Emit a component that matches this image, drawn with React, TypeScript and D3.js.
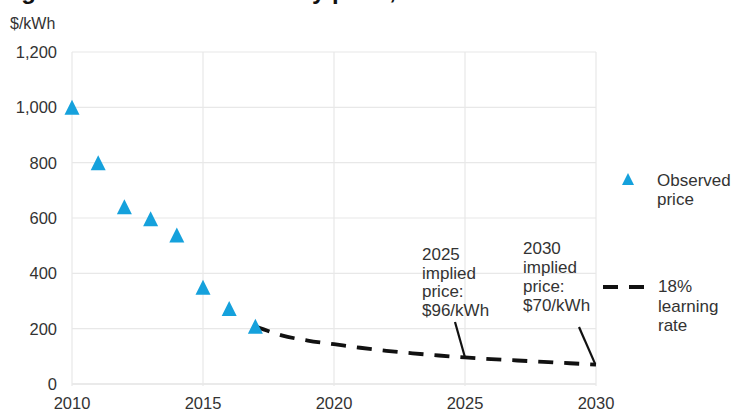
import * as d3 from 'd3';

const observedYears = [2010, 2011, 2012, 2013, 2014, 2015, 2016, 2017];
const observedPrice = [1000, 800, 641, 597, 539, 350, 273, 209];

const forecastYears = [2017, 2018, 2019, 2020, 2021, 2022, 2023, 2024, 2025, 2026, 2027, 2028, 2029, 2030];
const forecastPrice = [209, 176, 157, 144, 131, 120, 111, 103, 96, 90, 85, 80, 75, 70];

const yTicks = [0, 200, 400, 600, 800, 1000, 1200];
const xTicks = [2010, 2015, 2020, 2025, 2030];

const note2025 = ['2025', 'implied', 'price:', '$96/kWh'];
const note2030 = ['2030', 'implied', 'price:', '$70/kWh'];
const legendObserved = ['Observed', 'price'];
const legendForecast = ['18%', 'learning', 'rate'];

const W = 731;
const H = 410;
const BLUE = '#15a1dc';
const GRID = '#e8e8e8';
const TXT = '#333';
const FONT = "'Liberation Sans', Arial, Helvetica, sans-serif";

function tri(cx: number, cy: number, w = 15, h = 15) {
  const p = d3.path();
  p.moveTo(cx, cy - h / 2);
  p.lineTo(cx + w / 2, cy + h / 2);
  p.lineTo(cx - w / 2, cy + h / 2);
  p.closePath();
  return p.toString();
}

export default function App() {
  const x = d3.scaleLinear().domain([2010, 2030]).range([72, 596]);
  const y = d3.scaleLinear().domain([0, 1200]).range([384, 52]);

  const line = d3
    .line<number>()
    .x((_, i) => x(forecastYears[i]))
    .y(d => y(d))
    .curve(d3.curveMonotoneX);

  const fmt = d3.format(',');

  return (
    <svg
      width={W}
      height={H}
      style={{ position: 'absolute', left: 0, top: 0, background: '#fff' }}
      fontFamily={FONT}
    >
      {/* title is cut off at the top edge, only descenders show */}
      <text x={0} y={-1} fontSize={24} fontWeight="bold" fill="#111">
        Figure 1: Lithium-ion battery price, 2010–2030
      </text>

      <text x={10} y={29} fontSize={16} fill={TXT}>$/kWh</text>

      {/* grid */}
      {yTicks.map(t => (
        <line key={'gy' + t} x1={x(2010)} x2={x(2030)} y1={y(t)} y2={y(t)}
          stroke={t === 0 ? '#d6d6d6' : GRID} strokeWidth={1.2} />
      ))}
      {xTicks.map(t => (
        <line key={'gx' + t} x1={x(t)} x2={x(t)} y1={y(1200)} y2={y(0) + 2}
          stroke={GRID} strokeWidth={1.2} />
      ))}

      {yTicks.map(t => (
        <text key={'ty' + t} x={57} y={y(t)} dy="0.36em" textAnchor="end" fontSize={16.5} fill={TXT}>
          {fmt(t)}
        </text>
      ))}
      {xTicks.map(t => (
        <text key={'tx' + t} x={x(t)} y={409} textAnchor="middle" fontSize={16.5} fill={TXT}>
          {t}
        </text>
      ))}

      {/* forecast curve */}
      <path d={line(forecastPrice) || ''} fill="none" stroke="#111" strokeWidth={3.8}
        strokeDasharray="15,11" />

      {/* callouts */}
      <line x1={455} y1={322} x2={x(2025)} y2={y(96)} stroke="#111" strokeWidth={2.2} />
      <line x1={579} y1={327} x2={x(2030) - 1} y2={y(70) - 1} stroke="#111" strokeWidth={2.2} />

      {note2025.map((s, i) => (
        <text key={'n25' + i} x={422} y={260 + i * 18.5} fontSize={17} fill={TXT}>{s}</text>
      ))}
      {note2030.map((s, i) => (
        <text key={'n30' + i} x={523} y={254 + i * 19} fontSize={17} fill={TXT}>{s}</text>
      ))}

      {/* observed */}
      {observedPrice.map((v, i) => (
        <path key={'o' + i} d={tri(x(observedYears[i]), y(v))} fill={BLUE} />
      ))}

      {/* legend */}
      <path d={tri(628, 179, 12, 12)} fill={BLUE} />
      {legendObserved.map((s, i) => (
        <text key={'lo' + i} x={657} y={186 + i * 19} fontSize={17} fill={TXT}>{s}</text>
      ))}
      <line x1={603} x2={644} y1={287} y2={287} stroke="#111" strokeWidth={3.8} strokeDasharray="15,11" />
      {legendForecast.map((s, i) => (
        <text key={'lf' + i} x={658} y={292 + i * 19.5} fontSize={17} fill={TXT}>{s}</text>
      ))}
    </svg>
  );
}
